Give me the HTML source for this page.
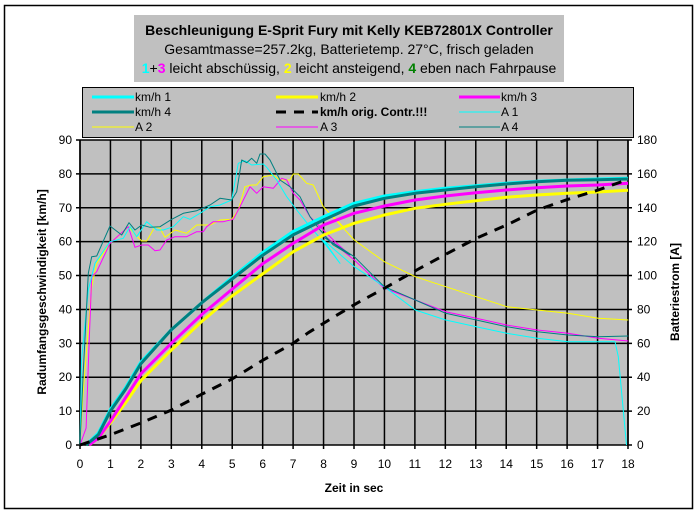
<!DOCTYPE html>
<html><head><meta charset="utf-8"><style>
html,body{margin:0;padding:0;background:#fff;}
body{width:698px;height:515px;overflow:hidden;font-family:"Liberation Sans",Arial,sans-serif;}
</style></head><body>
<svg id="s" width="698" height="515" xmlns="http://www.w3.org/2000/svg" font-family="Liberation Sans, Arial, sans-serif">
<rect x="4.5" y="5.5" width="688" height="503" fill="#fff" stroke="#000" stroke-width="1.5"/>
<rect x="134" y="15" width="430" height="67" fill="#c0c0c0"/>
<text x="349" y="35" text-anchor="middle" font-size="14" font-weight="bold">Beschleunigung E-Sprit Fury mit Kelly KEB72801X Controller</text>
<text x="349" y="54" text-anchor="middle" font-size="14">Gesamtmasse=257.2kg, Batterietemp. 27°C, frisch geladen</text>
<text x="349" y="73" text-anchor="middle" font-size="14"><tspan fill="#00ffff" font-weight="bold">1</tspan>+<tspan fill="#ff00ff" font-weight="bold">3</tspan> leicht abschüssig, <tspan fill="#ffff00" font-weight="bold">2</tspan> leicht ansteigend, <tspan fill="#008000" font-weight="bold">4</tspan> eben nach Fahrpause</text>
<rect x="82.5" y="87.5" width="551" height="50" fill="#c0c0c0" stroke="#000" stroke-width="1"/>
<g font-size="12">
<line x1="92" y1="97" x2="134" y2="97" stroke="#00ffff" stroke-width="3"/><text x="135" y="101">km/h 1</text>
<line x1="276" y1="97" x2="318" y2="97" stroke="#ffff00" stroke-width="3"/><text x="320" y="101">km/h 2</text>
<line x1="459" y1="97" x2="500" y2="97" stroke="#ff00ff" stroke-width="3"/><text x="501" y="101">km/h 3</text>
<line x1="92" y1="112" x2="134" y2="112" stroke="#008080" stroke-width="3"/><text x="135" y="116">km/h 4</text>
<line x1="276" y1="112" x2="318" y2="112" stroke="#000" stroke-width="3" stroke-dasharray="10,8"/><text x="320" y="116" font-weight="bold">km/h orig. Contr.!!!</text>
<line x1="459" y1="112" x2="500" y2="112" stroke="#00ffff" stroke-width="1"/><text x="501" y="116">A 1</text>
<line x1="92" y1="127" x2="134" y2="127" stroke="#ffff00" stroke-width="1"/><text x="135" y="131">A 2</text>
<line x1="276" y1="127" x2="318" y2="127" stroke="#ff00ff" stroke-width="1"/><text x="320" y="131">A 3</text>
<line x1="459" y1="127" x2="500" y2="127" stroke="#008080" stroke-width="1"/><text x="501" y="131">A 4</text>
</g>
<rect x="80" y="140" width="548" height="305" fill="#c0c0c0"/>
<g id="grid" stroke="#000" stroke-width="1.5"></g>
<g id="series" fill="none" stroke-linejoin="round"></g>
<g id="labels" font-size="12"></g>
<text x="354" y="492" text-anchor="middle" font-size="12" font-weight="bold">Zeit in sec</text>
<text transform="translate(46,292) rotate(-90)" text-anchor="middle" font-size="12" font-weight="bold">Radumfangsgeschwindigkeit [km/h]</text>
<text transform="translate(679,292) rotate(-90)" text-anchor="middle" font-size="12" font-weight="bold">Batteriestrom [A]</text>
</svg>
<script>
var NS="http://www.w3.org/2000/svg";
function X(t){return 80+t*548/18;}
function Y(v){return 445-v*305/90;}
function el(p,n,a){var e=document.createElementNS(NS,n);for(var k in a)e.setAttribute(k,a[k]);p.appendChild(e);return e;}
var g=document.getElementById('grid'),lb=document.getElementById('labels');
for(var t=0;t<=18;t++){el(g,'line',{x1:X(t),y1:140,x2:X(t),y2:449});var tx=el(lb,'text',{x:X(t),y:468,'text-anchor':'middle'});tx.textContent=t;}
for(var v=0;v<=90;v+=10){el(g,'line',{x1:76,y1:Y(v),x2:632,y2:Y(v)});var a=el(lb,'text',{x:72,y:Y(v)+4,'text-anchor':'end'});a.textContent=v;var b=el(lb,'text',{x:637,y:Y(v)+4});b.textContent=v*2;}
el(g,'line',{x1:80,y1:140,x2:80,y2:445});el(g,'line',{x1:628,y1:140,x2:628,y2:445});
var s=document.getElementById('series');
function z2(a){return a.map(function(p){return [60+p[0]/3,130+p[1]/3];});}
function z4(a){return a.map(function(p){return [300+p[0]/3,140+p[1]/3];});}
function dd(a){return a.map(function(p){return [X(p[0]),Y(p[1])];});}
function line(pts,col,w,dash){var a={points:pts.map(function(p){return p[0].toFixed(1)+','+p[1].toFixed(1);}).join(' '),stroke:col,'stroke-width':w};if(dash)a['stroke-dasharray']=dash;el(s,'polyline',a);}
// thin current lines
var A4=dd([[0,0],[0.1,20]]).concat(z2([[85,430],[95,380],[110,378],[150,288],[185,315],[207,278],[225,300],[245,285],[270,292],[300,290],[335,268],[370,250],[410,242],[450,225],[480,205],[515,210],[530,185],[545,90],[560,98],[575,85],[590,100],[600,72],[615,72],[630,90],[660,150],[690,170],[720,200],[750,260],[780,300],[820,345],[870,375]])).concat(z4([[70,290],[163,350],[253,440],[346,480],[437,520],[529,540],[620,560],[712,575],[804,585],[895,590],[985,588]]));
var A1=dd([[0,0],[0.05,25]]).concat(z2([[85,480],[105,400],[150,335],[190,325],[210,290],[230,320],[260,275],[290,300],[310,300],[340,290],[370,260],[390,268],[420,250],[450,230],[480,225],[515,210],[535,100],[555,92],[575,105],[610,102],[620,112],[650,150],[680,200],[710,240],[750,290],[790,335],[840,400]])).concat(z4([[70,300],[163,380],[253,440],[346,510],[437,540],[529,560],[620,580],[712,595],[804,605],[895,605],[945,605],[955,650]])).concat(dd([[17.95,0]]));
var A2=dd([[0,0],[0.1,15]]).concat(z2([[95,470],[110,400],[150,340],[205,290],[230,318],[245,333],[260,333],[285,290],[300,295],[315,322],[345,300],[380,310],[410,285],[450,285],[480,270],[515,268],[535,240],[555,170],[575,165],[590,165],[610,140],[640,135],[660,150],[690,150],[700,132],[715,132],[740,160],[760,165],[790,230],[820,260],[850,290]])).concat(z4([[70,200],[163,300],[253,365],[346,410],[437,440],[529,470],[620,500],[712,510],[804,520],[895,535],[985,540]]));
var A3=dd([[0,0],[0.2,5],[0.3,30]]).concat(z2([[95,440],[110,425],[150,340],[205,290],[225,352],[245,345],[265,345],[285,362],[300,360],[320,330],[345,320],[380,320],[410,305],[430,305],[440,290],[460,275],[490,275],[520,268],[540,230],[570,170],[590,190],[610,170],[640,175],[665,145],[680,150],[700,190],[720,210],[750,260],[790,300],[830,340],[870,375]])).concat(z4([[70,285],[163,360],[253,445],[346,480],[437,515],[529,535],[620,555],[712,570],[804,580],[895,595],[985,603]]));
line(A2,'#ffff00',1);line(A3,'#ff00ff',1);line(A1,'#00ffff',1);line(A4,'#008080',1);
// thick speed lines
function conv4(a){return a.map(function(p){return [X(p[0]),140+p[1]/3];});}
var yel=dd([[0.3,0],[0.6,2],[1,6.5],[1.5,12.5],[2,19],[3,28],[4,36.5],[5,44],[6,50.5],[7,57]]).concat(conv4([[8,285],[9,250],[10,225],[11,205],[12,193],[13,182],[14,172],[15,165],[16,160],[17,156],[18,151]]));
var mag=dd([[0.3,0],[0.6,2],[1,7],[1.5,14],[2,21],[3,30],[4,38.5],[5,46],[6,53.5],[7,59.5]]).concat(conv4([[8,255],[9,220],[10,198],[11,180],[12,168],[13,158],[14,150],[15,143],[16,138],[17,135],[18,130]]));
var teal=dd([[0.2,0],[0.6,3],[1,10],[1.5,16.5],[2,24],[3,34],[4,42],[5,49],[6,56],[7,62]]).concat(conv4([[8,240],[9,198],[10,175],[11,160],[12,150],[13,140],[14,132],[15,125],[16,121],[17,119],[18,117]]));
var cyan=dd([[0.2,0],[0.6,3.5],[1,10.5],[1.5,17],[2,24.5],[3,34],[4,42],[5,49.5],[6,56.8],[7,63]]).concat(conv4([[8,230],[9,190],[10,168],[11,155],[12,145],[13,137],[14,130],[15,124],[16,120],[17,117],[18,115]]));
line(yel,'#ffff00',3);line(mag,'#ff00ff',3);line(cyan,'#00ffff',3);line(teal,'#008080',3);
var dsh=dd([[0,0],[1,3],[2,6.5],[3,10.3],[4,15],[5,19.5],[6,25],[7,30]]).concat(z4([[25,578],[100,532],[170,490],[253,445],[350,390],[437,343],[529,295],[620,255],[712,210],[804,178],[895,150],[985,118]]));
line(dsh,'#000',3,'10,8');
</script>
</body></html>
